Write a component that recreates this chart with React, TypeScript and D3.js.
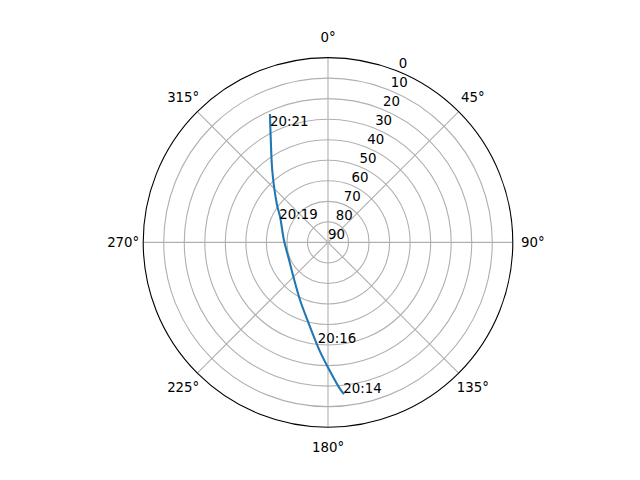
import * as d3 from "d3";

// satellite track (azimuth deg clockwise from north, elevation deg)
const trackAz = [174.2, 175.1, 179.4, 184.6, 194.9, 205.9, 221.9, 245.7, 273.1, 298.2, 306.3, 321.8, 331.2, 335.5];
const trackEl = [16.1, 17.9, 27.9, 37.4, 50.9, 58.8, 65.4, 69.2, 68.5, 63.5, 59.2, 46.2, 32.1, 21.8];

// time labels along the track
const labelTimes = ["20:14", "20:16", "20:19", "20:21"];
const labelAz = [174.2, 185.8, 295.7, 333.5];
const labelEl = [16.1, 40.6, 63.7, 26.7];

const thetaTicks = [0, 45, 90, 135, 180, 225, 270, 315];
const radialTicks = [0, 10, 20, 30, 40, 50, 60, 70, 80, 90];

const W = 640;
const H = 480;
const cx = 328;
const cy = 242.4;
const R = 184.8;
const FONT = "DejaVu Sans, sans-serif";
const rad = (deg: number) => (deg * Math.PI) / 180;

export default function App() {
  const r = d3.scaleLinear().domain([90, 0]).range([0, R]);
  const pt = (az: number, el: number): [number, number] => [
    cx + r(el) * Math.sin(rad(az)),
    cy - r(el) * Math.cos(rad(az)),
  ];

  const track = trackAz.map((a, i) => ({ az: a, el: trackEl[i] }));
  const line = d3
    .lineRadial<{ az: number; el: number }>()
    .angle((d) => rad(d.az))
    .radius((d) => r(d.el))
    .curve(d3.curveCatmullRom.alpha(0.5));

  const rlabelAngle = 22.5;

  return (
    <svg
      width={W}
      height={H}
      style={{ position: "absolute", left: 0, top: 0, background: "#fff" }}
      fontFamily={FONT}
      fontSize={13.33}
    >
      <rect width={W} height={H} fill="#fff" />
      {/* grid circles */}
      {radialTicks
        .filter((t) => t !== 0 && t !== 90)
        .map((t) => (
          <circle key={t} cx={cx} cy={cy} r={r(t)} fill="none" stroke="#b0b0b0" strokeWidth={1.1} />
        ))}
      {/* theta gridlines */}
      {thetaTicks.map((t) => {
        const [x, y] = pt(t, 0);
        return <line key={t} x1={cx} y1={cy} x2={x} y2={y} stroke="#b0b0b0" strokeWidth={1.1} />;
      })}
      {/* track */}
      <path
        d={line(track) ?? ""}
        transform={`translate(${cx},${cy})`}
        fill="none"
        stroke="#1f77b4"
        strokeWidth={2.08}
        strokeLinecap="square"
      />
      {/* outer spine */}
      <circle cx={cx} cy={cy} r={R} fill="none" stroke="#000" strokeWidth={1.1} />
      {/* theta labels */}
      {thetaTicks.map((t) => {
        const lr = R + 20;
        const x = cx + lr * Math.sin(rad(t));
        const y = cy - lr * Math.cos(rad(t));
        return (
          <text key={t} x={x} y={y + 4.8} textAnchor="middle" fill="#000">
            {`${t}°`}
          </text>
        );
      })}
      {/* radial labels */}
      {radialTicks.map((t) => {
        const [x, y] = pt(rlabelAngle, t);
        return (
          <text key={t} x={x} y={y - 3.3} textAnchor="start" fill="#000">
            {t}
          </text>
        );
      })}
      {/* time labels */}
      {labelTimes.map((s, i) => {
        const [x, y] = pt(labelAz[i], labelEl[i]);
        return (
          <text key={s} x={x} y={y} textAnchor="start" fill="#000">
            {s}
          </text>
        );
      })}
    </svg>
  );
}
